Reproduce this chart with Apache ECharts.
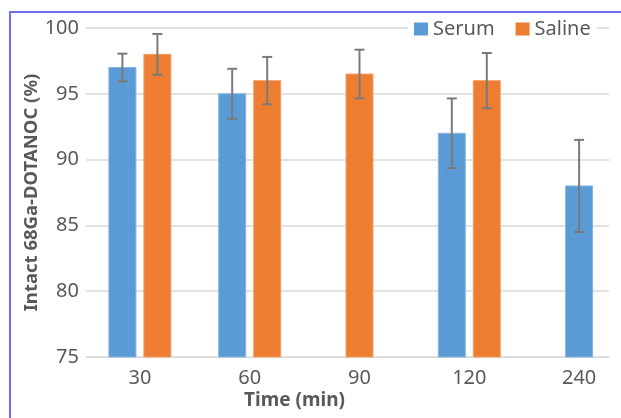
<!DOCTYPE html>
<html>
<head>
<meta charset="utf-8">
<script src="https://cdn.jsdelivr.net/npm/echarts@6/dist/echarts.min.js"></script>
<style>
  html, body { margin: 0; padding: 0; background: #ffffff; }
  #chart { position: absolute; left: 0; top: 0; width: 621px; height: 418px; }
  #frame { position: absolute; left: 9px; top: 11px; width: 700px; height: 500px;
           border-left: 2px solid #6f6ff2; border-top: 2px solid #6f6ff2; pointer-events: none; }
</style>
</head>
<body>
<div id="chart"></div>
<div id="frame"></div>
<script>
const categories = ['30', '60', '90', '120', '240'];
const serumMean = [97, 95, null, 92, 88];
const serumErr = [1.05, 1.9, null, 2.65, 3.5];
const salineMean = [98, 96, 96.5, 96, null];
const salineErr = [1.55, 1.8, 1.85, 2.1, null];
const yTicks = [75, 80, 85, 90, 95, 100];

const BLUE = '#5b9bd5', ORANGE = '#ed7d31', TXT = '#595959', FONT = 'Noto Sans';
const BW = 27, GAP = 8;

function centerX(api, idx, isSerum) {
  const c = api.coord([idx, 75])[0];
  const both = serumMean[idx] != null && salineMean[idx] != null;
  return both ? c + (isSerum ? -1 : 1) * (BW + GAP) / 2 : c;
}

function barRenderer(isSerum, stroke) {
  return function (params, api) {
    const idx = api.value(0), v = api.value(1);
    const cx = centerX(api, idx, isSerum);
    const base = api.coord([idx, 75])[1];
    const top = api.coord([idx, v])[1];
    return {
      type: 'rect',
      shape: { x: cx - BW / 2, y: top, width: BW, height: base - top },
      style: { fill: isSerum ? BLUE : ORANGE, stroke: stroke, lineWidth: 1 }
    };
  };
}

function errRenderer(isSerum) {
  return function (params, api) {
    const idx = api.value(0), v = api.value(1), e = api.value(2);
    const cx = centerX(api, idx, isSerum);
    const yt = api.coord([idx, v + e])[1];
    const yb = api.coord([idx, v - e])[1];
    const st = { stroke: '#7a7a7a', lineWidth: 2 };
    return {
      type: 'group',
      children: [
        { type: 'line', shape: { x1: cx, y1: yt, x2: cx, y2: yb }, style: st },
        { type: 'line', shape: { x1: cx - 5, y1: yt, x2: cx + 5, y2: yt }, style: st },
        { type: 'line', shape: { x1: cx - 5, y1: yb, x2: cx + 5, y2: yb }, style: st }
      ]
    };
  };
}

function pts(mean, err) {
  const out = [];
  mean.forEach((m, i) => { if (m != null) out.push([i, m, err[i]]); });
  return out;
}

const chart = echarts.init(document.getElementById('chart'), null, { renderer: 'canvas' });
chart.setOption({
  animation: false,
  textStyle: { fontFamily: FONT },
  grid: [
    { left: 86, right: 12, top: 28, bottom: 61, containLabel: false, outerBoundsMode: 'none' },
    { left: 85, width: 549, top: 28, bottom: 61, containLabel: false, outerBoundsMode: 'none' }
  ],
  legend: {
    left: 408, top: 17, padding: [2, 6], itemGap: 21, itemWidth: 14, itemHeight: 13,
    backgroundColor: '#ffffff', icon: 'rect',
    textStyle: { fontSize: 20, color: TXT, fontFamily: FONT },
    data: ['Serum', 'Saline']
  },
  xAxis: [
    { type: 'category', gridIndex: 0, data: categories, show: true,
      axisLine: { show: true, lineStyle: { color: '#d9d9d9', width: 1 } },
      axisTick: { show: false }, axisLabel: { show: false }, splitLine: { show: false } },
    { type: 'category', gridIndex: 1, data: categories,
      axisLine: { show: false }, axisTick: { show: false },
      axisLabel: { fontSize: 20, color: TXT, margin: 11, fontFamily: FONT },
      name: 'Time (min)', nameLocation: 'middle', nameGap: 34, nameMoveOverlap: false,
      nameTextStyle: { fontSize: 19, fontWeight: 'bold', color: TXT, fontFamily: FONT, padding: [0, 130, 0, 0] } }
  ],
  yAxis: [
    { type: 'value', gridIndex: 0, min: 75, max: 100, interval: 5,
      axisLine: { show: false }, axisTick: { show: false },
      axisLabel: { fontSize: 20, color: TXT, margin: 7, fontFamily: FONT },
      splitLine: { show: true, lineStyle: { color: '#d9d9d9', width: 1.5 } },
      name: 'Intact 68Ga-DOTANOC (%)', nameLocation: 'middle', nameGap: 45, nameMoveOverlap: false,
      nameTextStyle: { fontSize: 18.5, fontWeight: 'bold', color: TXT, fontFamily: FONT } },
    { type: 'value', gridIndex: 1, min: 75, max: 100, interval: 5, show: false,
      splitLine: { show: false } }
  ],
  series: [
    { name: 'Serum', type: 'custom', xAxisIndex: 1, yAxisIndex: 1, itemStyle: { color: BLUE },
      renderItem: barRenderer(true, '#86b6e2'), data: pts(serumMean, serumErr), z: 2 },
    { name: 'Saline', type: 'custom', xAxisIndex: 1, yAxisIndex: 1, itemStyle: { color: ORANGE },
      renderItem: barRenderer(false, '#f3a06a'), data: pts(salineMean, salineErr), z: 2 },
    { name: 'Serum err', type: 'custom', xAxisIndex: 1, yAxisIndex: 1,
      renderItem: errRenderer(true), data: pts(serumMean, serumErr), z: 3 },
    { name: 'Saline err', type: 'custom', xAxisIndex: 1, yAxisIndex: 1,
      renderItem: errRenderer(false), data: pts(salineMean, salineErr), z: 3 }
  ]
});
</script>
</body>
</html>
